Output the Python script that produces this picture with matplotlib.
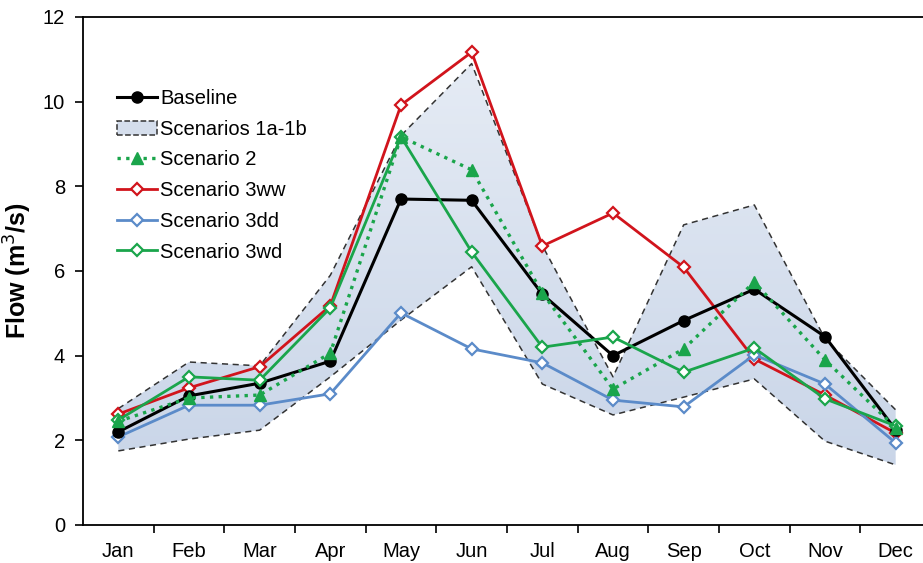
import numpy as np
import matplotlib.pyplot as plt
from matplotlib.patches import Patch
from matplotlib.lines import Line2D
from matplotlib.colors import LinearSegmentedColormap

plt.rcParams['font.family'] = ['Liberation Sans', 'DejaVu Sans']

months = ["Jan", "Feb", "Mar", "Apr", "May", "Jun",
          "Jul", "Aug", "Sep", "Oct", "Nov", "Dec"]

baseline = [2.2, 3.05, 3.35, 3.87, 7.7, 7.67, 5.45, 4.0, 4.83, 5.57, 4.45, 2.25]
scen1_hi = [2.75, 3.85, 3.76, 5.9, 9.2, 10.9, 6.6, 3.5, 7.09, 7.56, 4.4, 2.72]
scen1_lo = [1.75, 2.03, 2.24, 3.5, 4.84, 6.1, 3.33, 2.6, 3.02, 3.45, 1.98, 1.42]
scen2 = [2.45, 3.0, 3.07, 4.06, 9.17, 8.39, 5.48, 3.21, 4.16, 5.74, 3.9, 2.3]
scen3ww = [2.62, 3.24, 3.74, 5.18, 9.92, 11.17, 6.59, 7.37, 6.09, 3.92, 3.07, 2.17]
scen3dd = [2.08, 2.83, 2.83, 3.1, 5.01, 4.16, 3.83, 2.95, 2.79, 4.02, 3.33, 1.94]
scen3wd = [2.48, 3.5, 3.42, 5.13, 9.17, 6.45, 4.2, 4.44, 3.61, 4.18, 2.98, 2.34]

x = np.arange(len(months))

fig = plt.figure(figsize=(9.23, 5.63), dpi=100)
ax = fig.add_axes([83/923, 38/563, 848/923, 508/563])

# scenario 1 envelope: vertical gradient clipped to the band polygon
band_col = '#d5deec'
band = ax.fill_between(x, scen1_lo, scen1_hi, color='none', lw=0, zorder=1)
cmap = LinearSegmentedColormap.from_list('band', ['#c9d5e8', '#e6ecf5'])
grad = np.linspace(0, 1, 256).reshape(-1, 1)
img = ax.imshow(grad, cmap=cmap, origin='lower', aspect='auto',
                extent=[-0.5, 11.5, 1.2, 11.2], zorder=1)
img.set_clip_path(band.get_paths()[0], transform=ax.transData)
ax.plot(x, scen1_hi, color='#333333', ls=(0, (4, 3)), lw=1.1, zorder=2)
ax.plot(x, scen1_lo, color='#333333', ls=(0, (4, 3)), lw=1.1, zorder=2)

green = '#1aa54b'
red = '#d1141c'
blue = '#5b8bc9'

ax.plot(x, baseline, color='black', lw=2.2, marker='o', ms=8, zorder=4)
ax.plot(x, scen2, color=green, lw=2.4, ls=(0, (1, 1.6)), marker='^', ms=8,
        zorder=5)
ax.plot(x, scen3ww, color=red, lw=2.0, marker='D', ms=6.5,
        mfc='white', mec=red, mew=1.6, zorder=3)
ax.plot(x, scen3dd, color=blue, lw=2.0, marker='D', ms=6.5,
        mfc='white', mec=blue, mew=1.6, zorder=3)
ax.plot(x, scen3wd, color=green, lw=2.0, marker='D', ms=6.5,
        mfc='white', mec=green, mew=1.6, zorder=4)

ax.set_xlim(-0.5, 11.5)
ax.set_ylim(0, 12)
ax.set_yticks(np.arange(0, 13, 2))
ax.set_xticks(x)
ax.set_xticklabels(months)
ax.set_xticks(np.arange(0.5, 11.5, 1), minor=True)
ax.tick_params(axis='x', which='major', length=0, pad=12, labelsize=14.5)
ax.tick_params(axis='x', which='minor', length=6, width=1.2, direction='out')
ax.tick_params(axis='y', length=6, width=1.2, direction='out', labelsize=14.5, pad=7)
ax.spines['right'].set_visible(False)
for s in ['left', 'bottom', 'top']:
    ax.spines[s].set_linewidth(1.3)
ax.set_ylabel('Flow (m$^3$/s)', fontsize=18, fontweight='bold')
ax.yaxis.set_label_coords(-0.058, 0.5)

handles = [
    Line2D([], [], color='black', lw=2.2, marker='o', ms=8),
    Patch(facecolor=band_col, edgecolor='#333333', ls='--', lw=1.1),
    Line2D([], [], color=green, lw=2.4, ls=(0, (1, 1.6)), marker='^', ms=8),
    Line2D([], [], color=red, lw=2.0, marker='D', ms=6.5, mfc='white', mec=red, mew=1.6),
    Line2D([], [], color=blue, lw=2.0, marker='D', ms=6.5, mfc='white', mec=blue, mew=1.6),
    Line2D([], [], color=green, lw=2.0, marker='D', ms=6.5, mfc='white', mec=green, mew=1.6),
]
labels = ['Baseline', 'Scenarios 1a-1b', 'Scenario 2',
          'Scenario 3ww', 'Scenario 3dd', 'Scenario 3wd']
ax.legend(handles, labels, loc='upper left', bbox_to_anchor=(0.04, 0.858),
          frameon=False, fontsize=14.5, handlelength=2.0, handletextpad=0.15,
          labelspacing=0.58, borderaxespad=0, borderpad=0)

fig.savefig('out.png', dpi=100)
